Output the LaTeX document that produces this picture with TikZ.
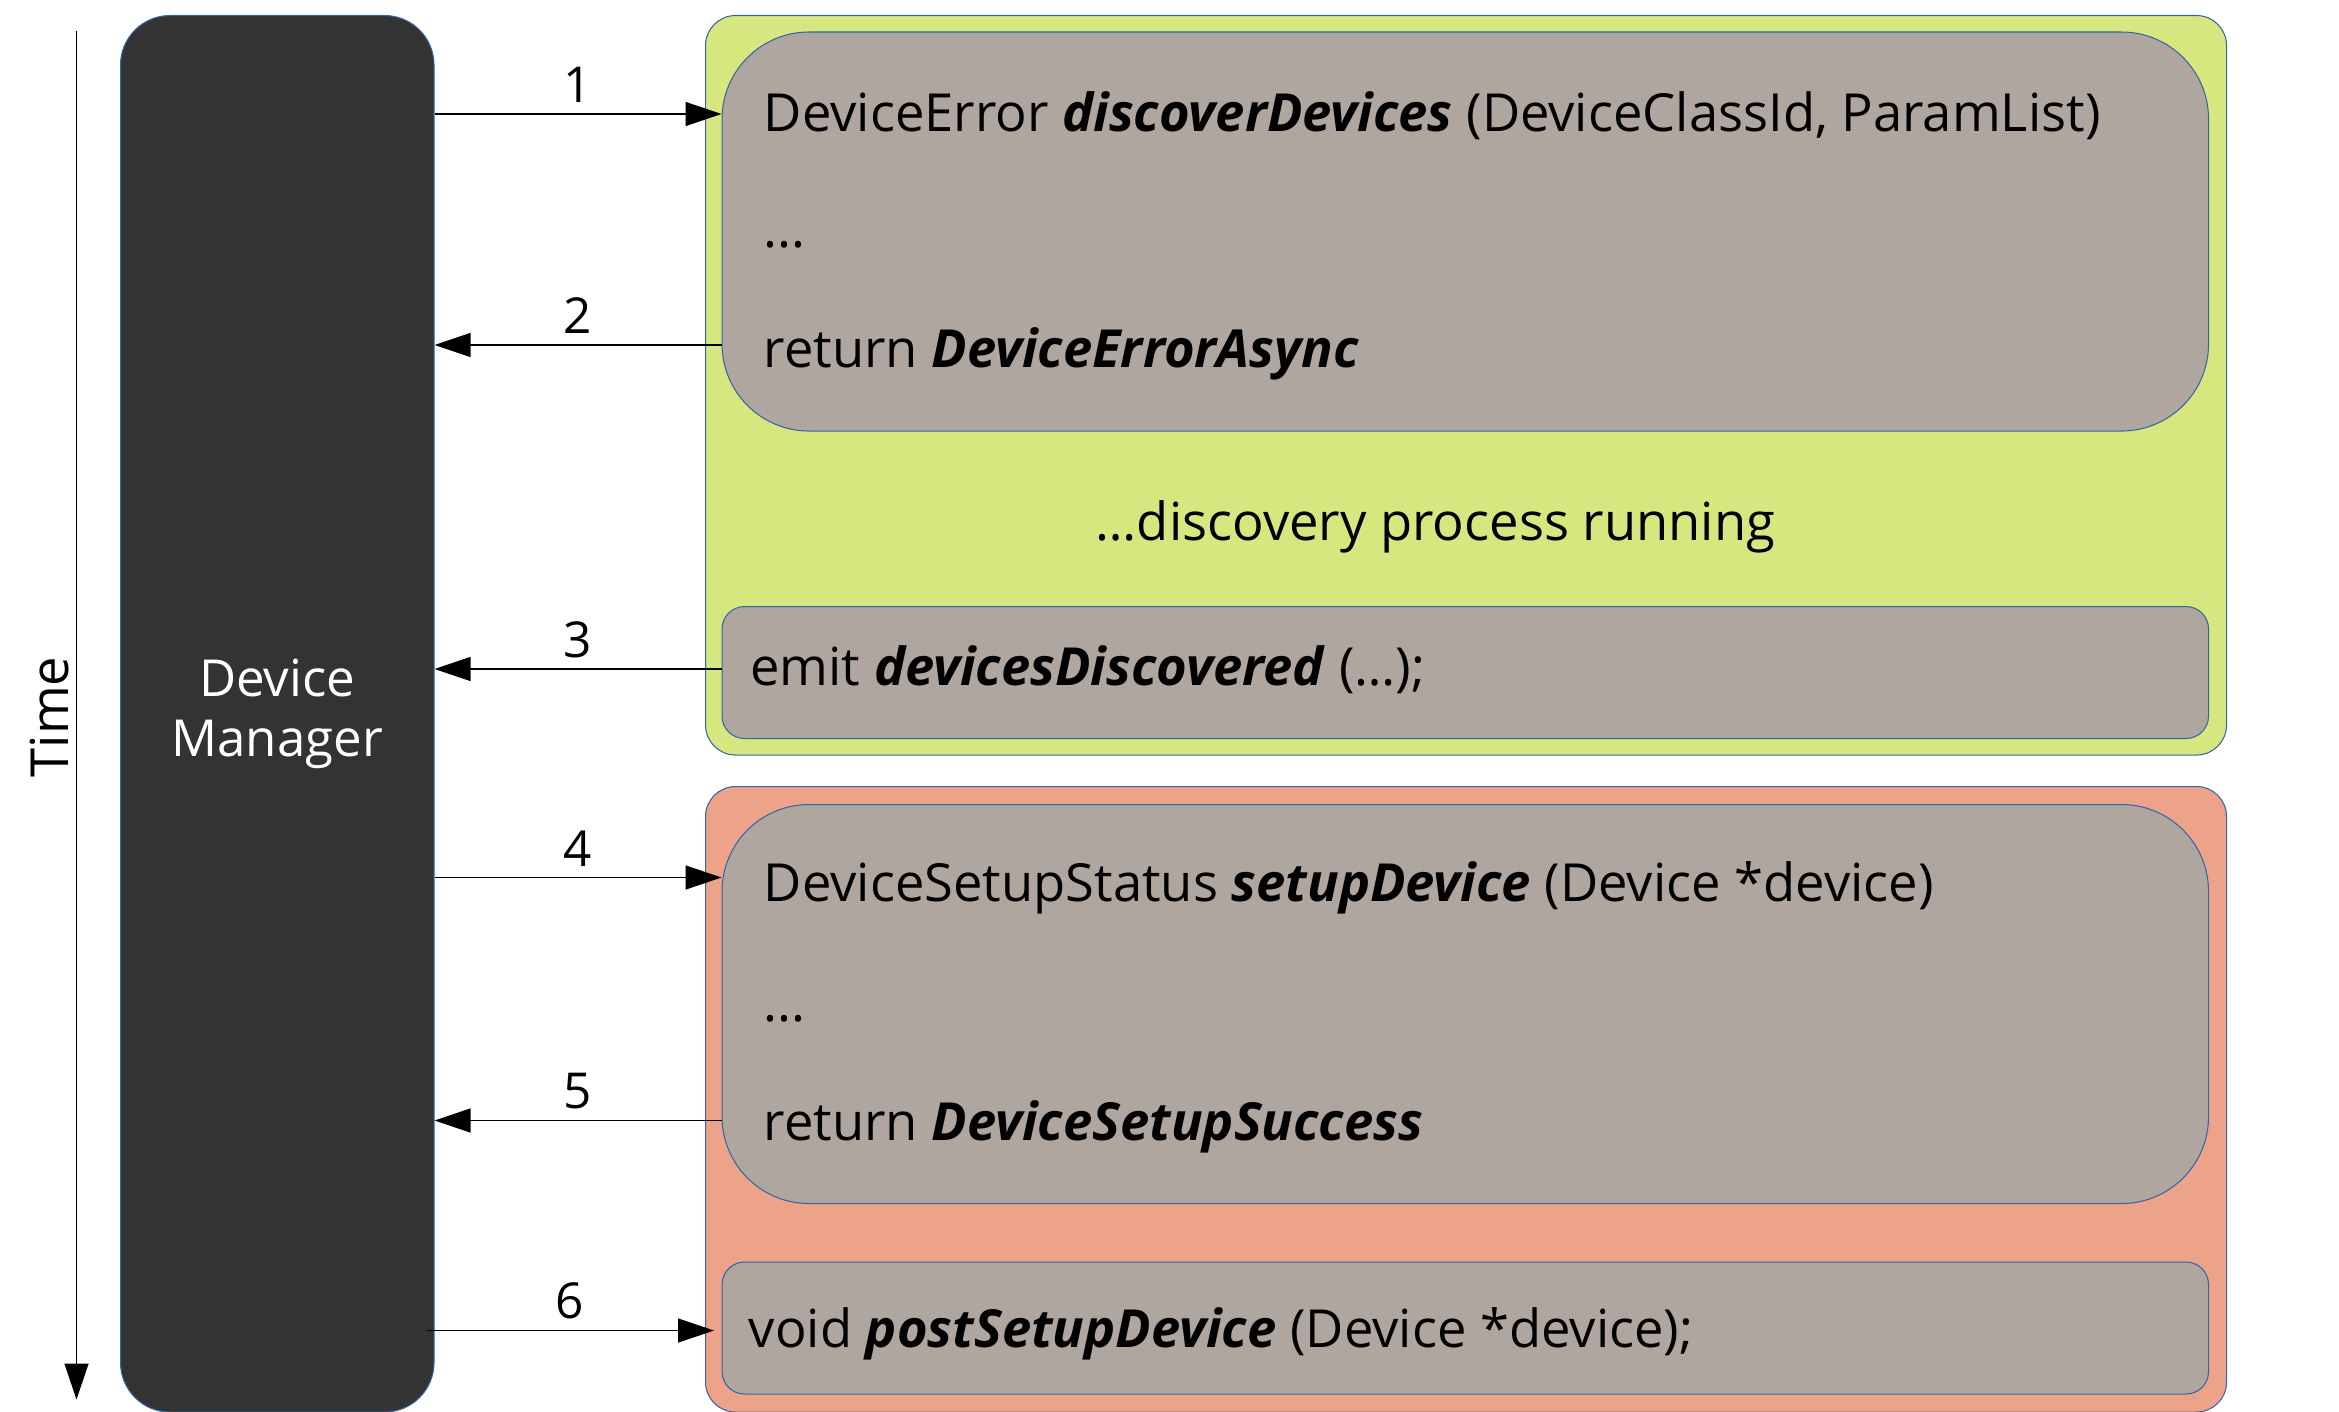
\documentclass[tikz,border=0pt]{standalone}
\usepackage{fontspec}
\setmainfont{Open Sans}
\usetikzlibrary{arrows.meta}
\definecolor{dmfill}{HTML}{333333}
\definecolor{limefill}{HTML}{D7E77F}
\definecolor{salmonfill}{HTML}{ECA38A}
\definecolor{grayfill}{HTML}{AFA79F}
\definecolor{edgeblue}{HTML}{3465A4}
\newcommand{\fn}[1]{\textbf{\textit{#1}}}
\begin{document}
\begin{tikzpicture}[x=1pt,y=-1pt,
  box/.style={draw=edgeblue, line width=0.7pt, anchor=north west, inner sep=0pt},
  outerbox/.style={box, rounded corners=20pt},
  bigbox/.style={box, fill=grayfill, rounded corners=58pt, minimum width=991pt, minimum height=266pt},
  smallbox/.style={box, fill=grayfill, rounded corners=15pt, minimum width=991pt, minimum height=88pt},
  txt/.style={anchor=base west, inner sep=0pt, font=\fontsize{35}{42}\selectfont},
  arr/.style={draw=black, line width=0.9pt, -{Triangle[length=24pt,width=16pt]}},
  lbl/.style={above=7pt, inner sep=0pt, font=\fontsize{33}{40}\selectfont}]
\useasboundingbox (0,0) rectangle (1559.33,941.33);

% time axis
\coordinate (ttop) at (51,21);
\coordinate (tbot) at (51,933);
\draw[arr] (ttop) -- (tbot);
\node[rotate=90, inner sep=0pt, font=\fontsize{35}{40}\selectfont] (time) at (33,478) {Time};

% device manager
\node[box, fill=dmfill, rounded corners=33pt, minimum width=209pt, minimum height=931pt,
      text=white, align=center, font=\fontsize{34}{40}\selectfont] (dm) at (80,10) {Device\\Manager};

% outer boxes
\node[outerbox, fill=limefill, minimum width=1014pt, minimum height=493pt] (grn) at (470,10) {};
\node[outerbox, fill=salmonfill, minimum width=1014pt, minimum height=417pt] (red) at (470,524) {};

% inner boxes
\node[bigbox] (g1) at (481,21) {};
\node[smallbox] (g2) at (481,404) {};
\node[bigbox] (g3) at (481,536) {};
\node[smallbox] (g4) at (481,841) {};

% texts
\node[txt] (t1) at (509,88) {DeviceError \fn{discoverDevices} (DeviceClassId, ParamList)};
\node[txt] (t1b) at (509,165) {...};
\node[txt] (t1c) at (509,245) {return \fn{DeviceErrorAsync}};
\node[txt, anchor=base] (mid) at (957,360) {…discovery process running};
\node[txt] (t2) at (500,457) {emit \fn{devicesDiscovered} (…);};
\node[txt] (t3) at (509,601) {DeviceSetupStatus \fn{setupDevice} (Device *device)};
\node[txt] (t3b) at (509,681) {...};
\node[txt] (t3c) at (509,760) {return \fn{DeviceSetupSuccess}};
\node[txt] (t4) at (499,898) {void \fn{postSetupDevice} (Device *device);};

% arrow levels
\coordinate (a1) at (0,76);
\coordinate (a2) at (0,230);
\coordinate (a3) at (0,446);
\coordinate (a4) at (0,585);
\coordinate (a5) at (0,747);
\coordinate (a6) at (0,887);

\draw[arr] (dm.east |- a1) -- node[lbl] {1} (g1.west |- a1);
\draw[arr] (g1.west |- a2) -- node[lbl] {2} (dm.east |- a2);
\draw[arr] (g2.west |- a3) -- node[lbl] {3} (dm.east |- a3);
\draw[arr] (dm.east |- a4) -- node[lbl] {4} (g3.west |- a4);
\draw[arr] (g3.west |- a5) -- node[lbl] {5} (dm.east |- a5);
\draw[arr, shorten >=5pt] ([xshift=-5pt]dm.east |- a6) -- node[lbl, xshift=-3pt] {6} (g4.west |- a6);
\end{tikzpicture}
\end{document}
